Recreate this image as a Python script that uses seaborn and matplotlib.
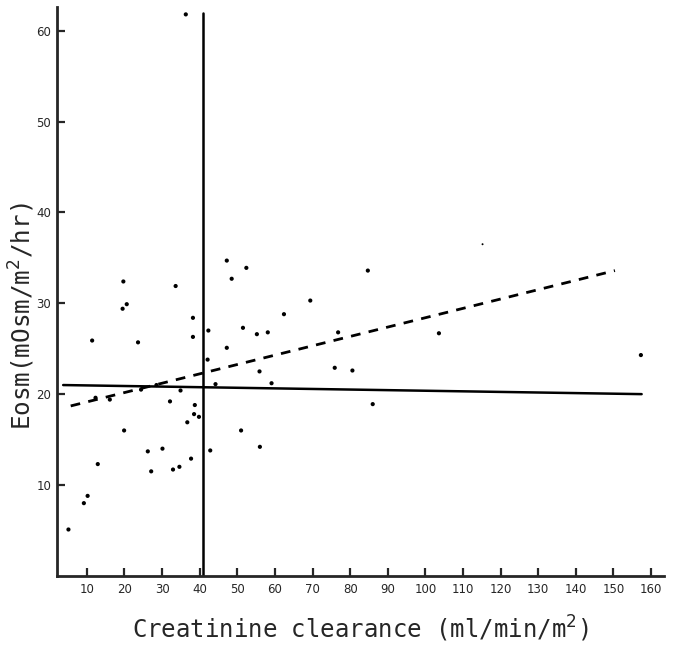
# Eosm vs creatinine clearance scatter (scanned figure recreation)
import pandas as pd
import seaborn as sns
import matplotlib.pyplot as plt

sns.set_style("ticks")
plt.rcParams['font.family'] = ['DejaVu Sans']

# --- Data ---
clearance = [36.3, 19.7, 19.5, 20.6, 33.6, 38.2, 47.2, 52.4, 48.5, 69.4,
             62.4, 51.5, 11.4, 23.6, 38.2, 42.3, 42.1, 32.1, 34.9, 38.7,
             38.5, 39.8, 12.3, 16.1, 24.4, 28.5, 19.9, 36.7, 26.2, 30.1,
             37.7, 42.8, 12.9, 27.1, 32.9, 34.6, 10.2, 9.2, 5.1, 84.7,
             55.2, 58.1, 76.8, 47.2, 55.9, 75.9, 80.6, 44.2, 59.1, 86.0,
             51.0, 56.0, 103.6, 157.3]
eosm = [61.8, 32.4, 29.4, 29.9, 31.9, 28.4, 34.7, 33.9, 32.7, 30.3,
        28.8, 27.3, 25.9, 25.7, 26.3, 27.0, 23.8, 19.2, 20.4, 18.8,
        17.8, 17.5, 19.6, 19.4, 20.5, 21.0, 16.0, 16.9, 13.7, 14.0,
        12.9, 13.8, 12.3, 11.5, 11.7, 12.0, 8.8, 8.0, 5.1, 33.6,
        26.6, 26.8, 26.8, 25.1, 22.5, 22.9, 22.6, 21.1, 21.2, 18.9,
        16.0, 14.2, 26.7, 24.3]

# faint speck in the upper right
speck_x = [115.2]
speck_y = [36.5]

# solid horizontal reference line (endpoints)
mean_x = [3.7, 157.5]
mean_y = [21.0, 20.0]

# dashed regression line (endpoints)
reg_x = [5.7, 150.4]
reg_y = [18.7, 33.6]

# vertical cut-off
cutoff = 40.8

xticks = list(range(10, 161, 10))
yticks = [10, 20, 30, 40, 50, 60]

df = pd.DataFrame({'clearance': clearance, 'eosm': eosm})

fig = plt.figure(figsize=(6.76, 6.47), dpi=100)
ax = fig.add_axes([0.084, 0.11, 0.898, 0.879])

sns.scatterplot(data=df, x='clearance', y='eosm', ax=ax, color='black',
                s=9, edgecolor='none', linewidth=0)
sns.scatterplot(x=speck_x, y=speck_y, ax=ax, color='black', s=2,
                edgecolor='none', linewidth=0)
sns.lineplot(x=mean_x, y=mean_y, ax=ax, color='black', linewidth=1.8)
sns.lineplot(x=reg_x, y=reg_y, ax=ax, color='black', linewidth=2.0,
             linestyle=(0, (3.5, 3)))
ax.plot([cutoff, cutoff], [0, 62.0], color='black', linewidth=1.8)

ax.set_xlim(2.0, 163.4)
ax.set_ylim(0, 62.6)
ax.set_xticks(xticks)
ax.set_yticks(yticks)
ax.tick_params(direction='in', length=6, width=1.6, labelsize=8.5, pad=5)
ax.tick_params(axis='y', pad=4)

for side in ['top', 'right']:
    ax.spines[side].set_visible(False)
for side in ['left', 'bottom']:
    ax.spines[side].set_linewidth(2.0)

ax.set_xlabel('Creatinine clearance (ml/min/m$^2$)', fontsize=17.3,
              family='DejaVu Sans Mono')
ax.xaxis.set_label_coords(0.5, -0.066)
ax.set_ylabel('Eosm(mOsm/m$^2$/hr)', fontsize=17.5,
              family='DejaVu Sans Mono')
ax.yaxis.set_label_coords(-0.033, 0.457)

fig.savefig('out.png', dpi=100)
